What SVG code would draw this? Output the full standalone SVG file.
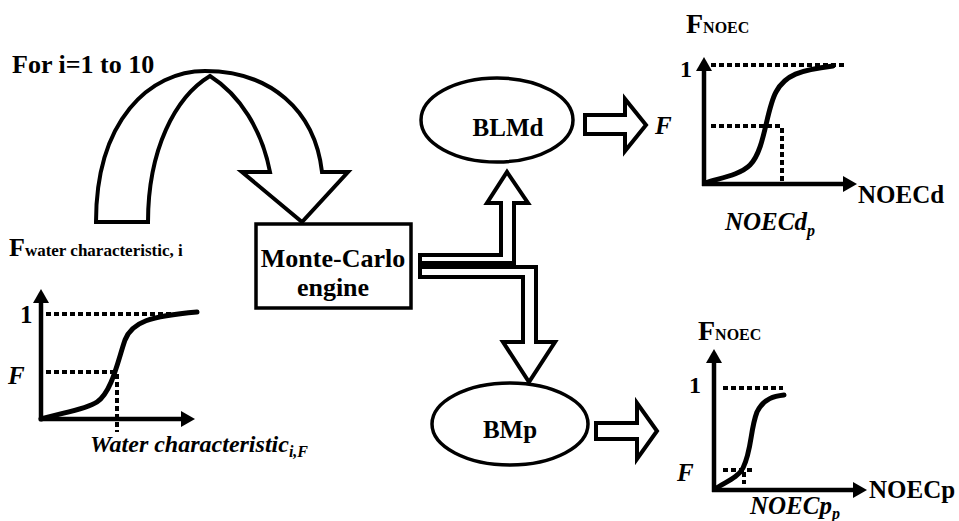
<svg xmlns="http://www.w3.org/2000/svg" width="959" height="521" viewBox="0 0 959 521">
<defs>
<marker id="ah" markerUnits="userSpaceOnUse" markerWidth="14" markerHeight="16" refX="1" refY="8" orient="auto" overflow="visible">
<path d="M0,0 L14,8 L0,16 Z" fill="#000"/>
</marker>
</defs>
<style>
text{font-family:"Liberation Serif","Times New Roman",serif;font-weight:bold;fill:#000}
.it{font-style:italic}
.blk{fill:#fff;stroke:#000;stroke-width:4;stroke-linejoin:miter}
.node{fill:#fff;stroke:#000;stroke-width:3.5}
.axis{fill:none;stroke:#000;stroke-width:4.5;marker-end:url(#ah)}
.curve{fill:none;stroke:#000;stroke-width:5;stroke-linecap:round}
.dot{fill:none;stroke:#000;stroke-width:4;stroke-dasharray:5 3}
</style>
<rect width="959" height="521" fill="#fff"/>

<text x="12" y="73" font-size="26">For i=1 to 10</text>

<g id="connectors">
<path class="blk" d="M96,222 L148,222 C148,150 175,97 210,76 C240,95 262,130 270,172 L242,172 L302,222 L348,172 L322,172 C315,110 270,71 205,71 C150,71 96,120 96,222 Z"/>
<path class="blk" stroke-width="3.5" d="M420,255 L501,255 L501,203 L487,203 L507,172 L528,203 L514,203 L514,263 L420,263 Z"/>
<path class="blk" stroke-width="3.5" d="M420,267 L536,267 L536,342 L555,342 L529,382 L503,342 L523,342 L523,277 L420,277 Z"/>
<path class="blk" stroke-width="3.5" d="M585,115 L625,115 L625,99 L646,125 L625,151 L625,134 L585,134 Z"/>
<path class="blk" stroke-width="3.5" d="M596,423 L637,423 L637,403 L657,431 L637,459 L637,439 L596,439 Z"/>
</g>

<g id="monte-carlo">
<rect class="node" x="256" y="224" width="155" height="84"/>
<text x="333" y="267" font-size="26" text-anchor="middle">Monte-Carlo</text>
<text x="333" y="296" font-size="26" text-anchor="middle">engine</text>
</g>

<g id="blmd">
<ellipse class="node" cx="497" cy="120" rx="76" ry="42"/>
<text x="508" y="136" font-size="25" text-anchor="middle">BLMd</text>
</g>

<g id="bmp">
<ellipse class="node" cx="510" cy="424" rx="78" ry="41"/>
<text x="510" y="438" font-size="25" text-anchor="middle">BMp</text>
</g>

<g id="chart-water">
<text x="9" y="256" font-size="26">F<tspan font-size="17">water characteristic, i</tspan></text>
<text x="20" y="323" font-size="25">1</text>
<text class="it" x="8" y="384" font-size="25">F</text>
<path class="dot" d="M46,314 L176,314"/>
<path class="dot" d="M46,372 L116,372 M117,374 L117,432"/>
<path class="axis" d="M41,421 L41,302"/>
<path class="axis" d="M39,419 L182,419"/>
<path class="curve" d="M41,419 C60,413 85,410 97,402 C112,392 118,360 125,340 C132,322 150,316 197,312"/>
<text class="it" x="90" y="452" font-size="24">Water characteristic<tspan font-size="16" dy="5">i,F</tspan></text>
</g>

<g id="chart-noecd">
<text x="686" y="33" font-size="28">F<tspan font-size="16">NOEC</tspan></text>
<text x="680" y="77" font-size="24">1</text>
<text class="it" x="655" y="134" font-size="25">F</text>
<path class="dot" d="M711,65 L846,65"/>
<path class="dot" d="M711,126 L782,126 M782,128 L782,184"/>
<path class="axis" d="M704,186 L704,70"/>
<path class="axis" d="M702,184 L844,184"/>
<path class="curve" d="M705,183 C720,178 740,175 750,165 C765,150 766,110 776,92 C785,75 800,70 833,66"/>
<text x="858" y="203" font-size="25">NOECd</text>
<text class="it" x="725" y="230" font-size="25">NOECd<tspan font-size="16" dy="6">p</tspan></text>
</g>

<g id="chart-noecp">
<text x="698" y="340" font-size="28">F<tspan font-size="16">NOEC</tspan></text>
<text x="689" y="393" font-size="24">1</text>
<text class="it" x="677" y="481" font-size="25">F</text>
<path class="dot" d="M723,388 L783,388"/>
<path class="dot" d="M723,470 L752,470 M744,472 L744,484"/>
<path class="axis" d="M714,492 L714,362"/>
<path class="axis" d="M712,490 L854,490"/>
<path class="curve" d="M715,489 C725,482 738,478 743,468 C752,450 750,430 757,412 C764,398 775,396 784,395"/>
<text x="869" y="498" font-size="25">NOECp</text>
<text class="it" x="750" y="514" font-size="25">NOECp<tspan font-size="16" dy="5">p</tspan></text>
</g>
</svg>
